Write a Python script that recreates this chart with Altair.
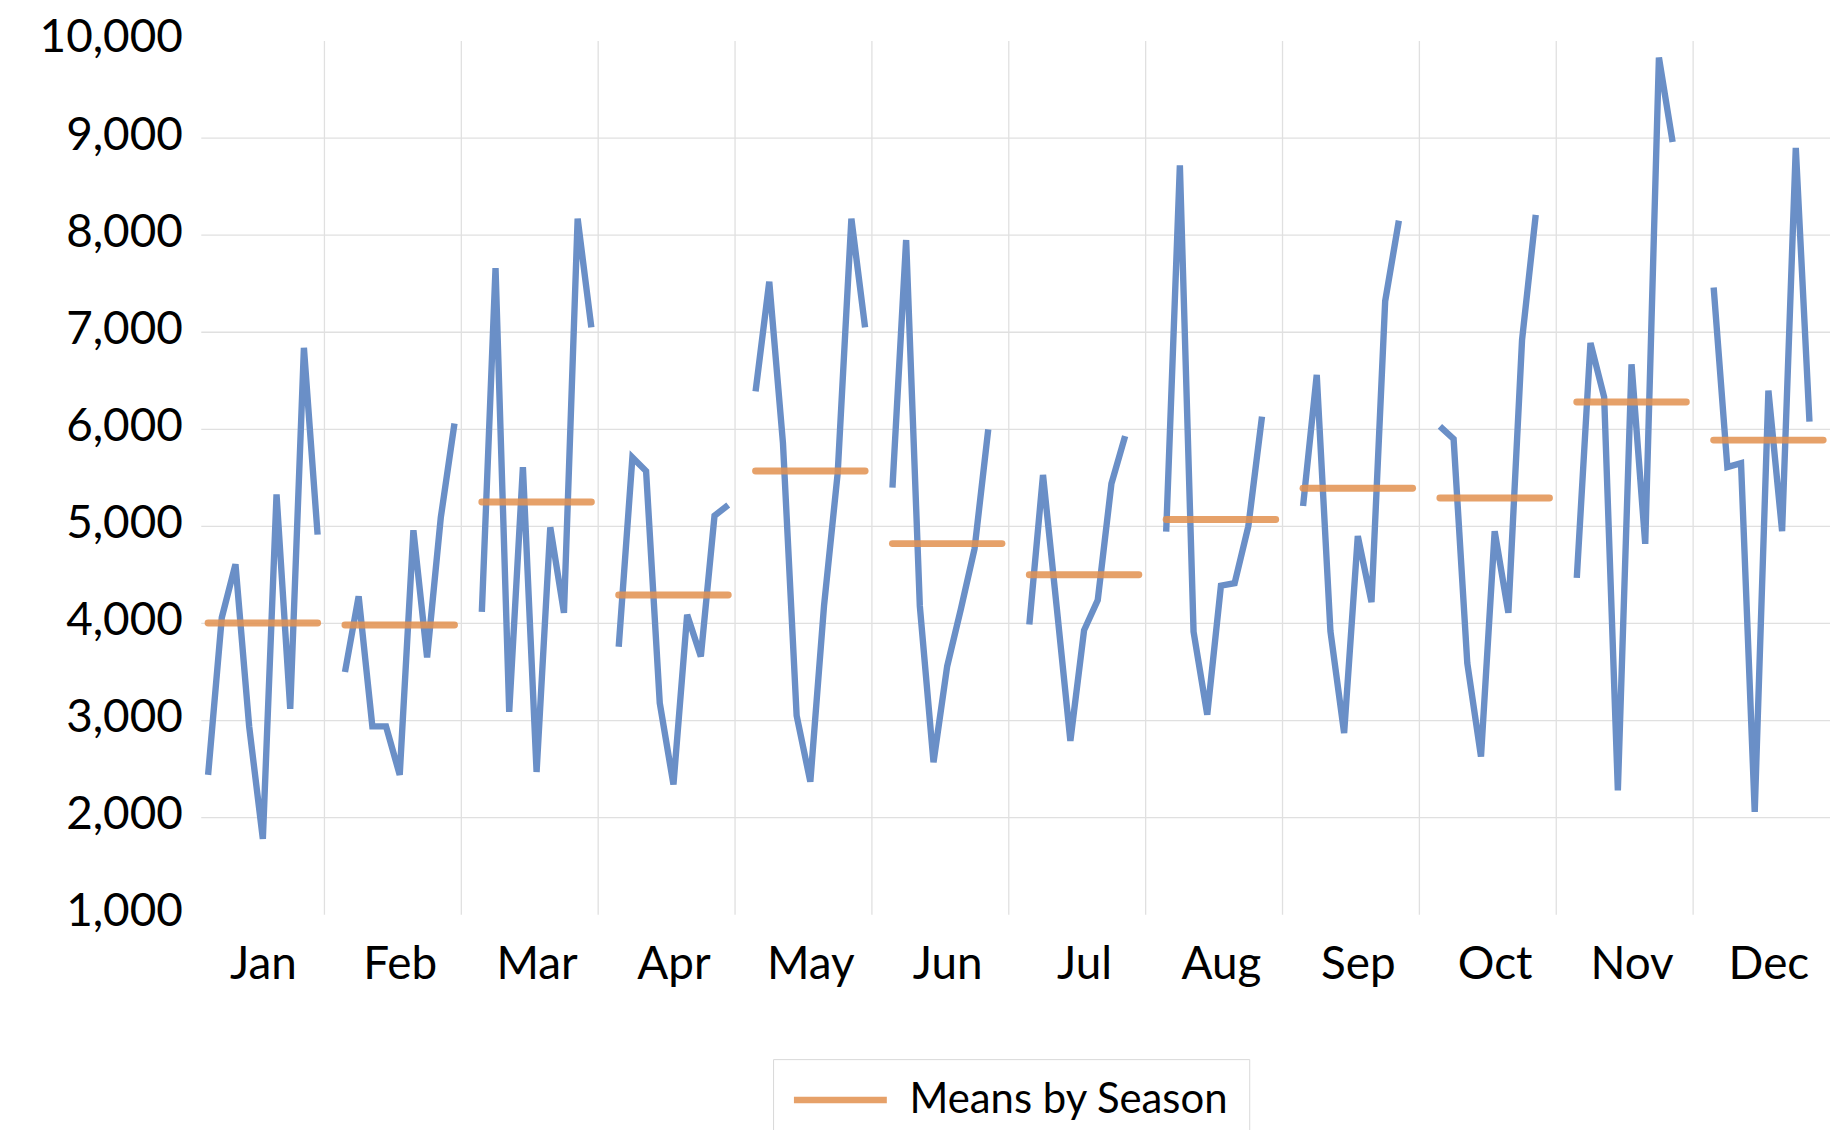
import altair as alt
import pandas as pd

months = ["Jan", "Feb", "Mar", "Apr", "May", "Jun", "Jul", "Aug", "Sep", "Oct", "Nov", "Dec"]

jan = [2440, 4060, 4610, 2940, 1780, 5330, 3120, 6840, 4915]
feb = [3500, 4280, 2940, 2940, 2440, 4960, 3650, 5090, 6060]
mar = [4120, 7660, 3090, 5610, 2470, 4990, 4110, 8170, 7050]
apr = [3760, 5710, 5570, 3180, 2340, 4090, 3660, 5110, 5220]
may = [6390, 7520, 5860, 3050, 2370, 4180, 5550, 8170, 7050]
jun = [5400, 7950, 4180, 2570, 3560, 4150, 4770, 6000]
jul = [3990, 5530, 4170, 2790, 3930, 4240, 5440, 5930]
aug = [4945, 8720, 3915, 3060, 4390, 4415, 5000, 6130]
sep = [5210, 6560, 3920, 2870, 4900, 4220, 7320, 8150]
octo = [6030, 5900, 3590, 2630, 4950, 4110, 6920, 8210]
nov = [4470, 6890, 6330, 2280, 6670, 4820, 9830, 8960]
dec = [7460, 5610, 5650, 2060, 6400, 4950, 8900, 6080]

series = [jan, feb, mar, apr, may, jun, jul, aug, sep, octo, nov, dec]

y_ticks = [1000, 2000, 3000, 4000, 5000, 6000, 7000, 8000, 9000, 10000]
h_grid = [2000, 3000, 4000, 5000, 6000, 7000, 8000, 9000]

SLOTS = 10  # 9 data slots + 1 gap per season

rows = []
for m, vals in enumerate(series):
    for k, v in enumerate(vals):
        rows.append({"m": m, "month": months[m], "c": SLOTS * m + k + 0.5, "value": v})
df = pd.DataFrame(rows)

v_grid = pd.DataFrame({"b": [SLOTS * m - 1 for m in range(1, 12)]})
hg = pd.DataFrame({"v": h_grid})

FONT = "Lato"
BLUE = "#6a8fc7"
ORANGE = "#e2914f"

xscale = alt.Scale(domain=[0, 119], nice=False, zero=False)
yscale = alt.Scale(domain=[1000, 10000], nice=False, zero=False)

label_expr = "[" + ",".join(f"'{m}'" for m in months) + "][floor(datum.value/10)]"

yaxis = alt.Axis(values=y_ticks, labelExpr="format(datum.value, ',')", title=None, grid=False,
                 domain=False, ticks=False, tickSize=0, labelFont=FONT, labelFontSize=46,
                 labelColor="#000000", labelPadding=19, labelOffset=-3)
xaxis = alt.Axis(values=[SLOTS * m + 4.5 for m in range(12)], labelExpr=label_expr,
                 title=None, grid=False, domain=False, ticks=False, tickSize=0,
                 labelFont=FONT, labelFontSize=46, labelColor="#000000",
                 labelPadding=64, labelBaseline="alphabetic")

hrules = alt.Chart(hg).mark_rule(color="#e0e0e0", strokeWidth=1.3).encode(
    y=alt.Y("v:Q", scale=yscale, axis=yaxis)
)

vrules = alt.Chart(v_grid).mark_rule(color="#e0e0e0", strokeWidth=1.3).encode(
    x=alt.X("b:Q", scale=xscale, axis=xaxis)
)

lines = alt.Chart(df).mark_line(color=BLUE, strokeWidth=6.4, strokeJoin="miter",
                                strokeCap="butt").encode(
    x=alt.X("c:Q", scale=xscale, axis=xaxis),
    y=alt.Y("value:Q", scale=yscale, axis=yaxis),
    detail="m:N",
    order="c:Q",
)

# legend symbol: a long horizontal stroke (unit = 12 px at symbolSize 576)
means = alt.Chart(df).transform_aggregate(
    mean="mean(value)", groupby=["m"]
).transform_calculate(
    x0=f"datum.m*{SLOTS}+0.5",
    x1=f"datum.m*{SLOTS}+8.5",
    series="'Means by Season'",
).mark_rule(strokeWidth=7, strokeCap="round", opacity=0.85).encode(
    x=alt.X("x0:Q", scale=xscale, axis=xaxis),
    x2="x1:Q",
    y=alt.Y("mean:Q", scale=yscale, axis=yaxis),
    color=alt.Color("series:N", scale=alt.Scale(range=[ORANGE]),
                    legend=alt.Legend(title=None, orient="none", legendX=574, legendY=1022,
                                      symbolType="M-1.67,0H6.1", symbolSize=576,
                                      symbolStrokeWidth=6.5, symbolStrokeColor=ORANGE,
                                      labelFont=FONT, labelFontSize=42, labelColor="#000000",
                                      labelLimit=600, labelOffset=75, padding=20,
                                      strokeColor="#d9d9d9", fillColor="#ffffff",
                                      cornerRadius=0)),
)

chart = alt.layer(hrules, vrules, lines, means).properties(
    width=1635,
    height=877,
    autosize=alt.AutoSizeParams(type="none"),
    padding={"left": 194, "top": 31, "right": 0, "bottom": 214},
    background="#ffffff",
).configure_view(strokeWidth=0)

chart.save("out.html", embed_options={"renderer": "svg", "actions": False})
